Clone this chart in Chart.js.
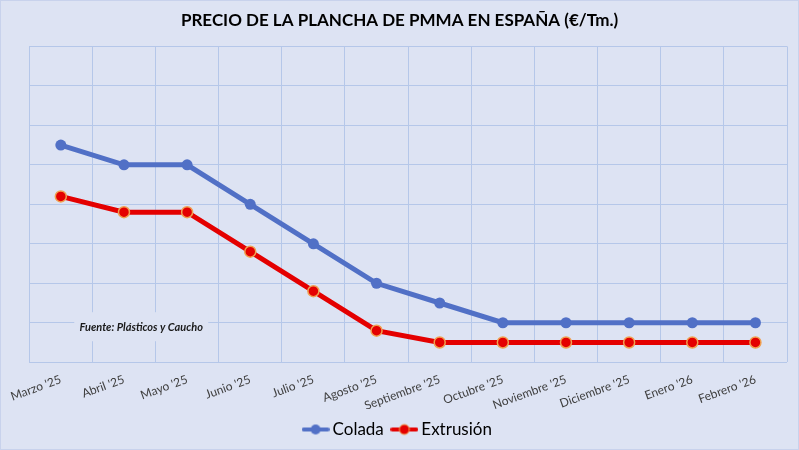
<!DOCTYPE html>
<html>
<head>
<meta charset="utf-8">
<script src="https://cdn.jsdelivr.net/npm/chart.js@4/dist/chart.umd.min.js"></script>
<style>
html,body{margin:0;padding:0;background:#dde3f3;}
#wrap{width:799px;height:450px;position:relative;}
</style>
</head>
<body>
<div id="wrap"><canvas id="c" width="799" height="450"></canvas></div>
<script>
const categories = ["Marzo '25","Abril '25","Mayo '25","Junio '25","Julio '25","Agosto '25","Septiembre '25","Octubre '25","Noviembre '25","Diciembre '25","Enero '26","Febrero '26"];
const colada = [5.5, 5.0, 5.0, 4.0, 3.0, 2.0, 1.5, 1.0, 1.0, 1.0, 1.0, 1.0];
const extrusion = [4.2, 3.8, 3.8, 2.8, 1.8, 0.8, 0.5, 0.5, 0.5, 0.5, 0.5, 0.5];
const titleText = 'PRECIO DE LA PLANCHA DE PMMA EN ESPAÑA (€/Tm.)';
const sourceText = 'Fuente: Plásticos y Caucho';

const BG = '#dde3f3';
const BLUE = '#5170c6';
const RED = '#e40000';
const RING = '#f0a050';
const GRID = '#b5c7e9';
const FONT = 'Lato, "Open Sans", sans-serif';

function legendIcon(color, border) {
  const cv = document.createElement('canvas');
  cv.width = 28; cv.height = 14;
  const g = cv.getContext('2d');
  g.strokeStyle = color; g.lineWidth = 4; g.lineCap = 'round';
  g.beginPath(); g.moveTo(2, 7); g.lineTo(26, 7); g.stroke();
  g.fillStyle = color; g.beginPath(); g.arc(14, 7, 5, 0, Math.PI * 2); g.fill();
  if (border) { g.strokeStyle = border; g.lineWidth = 1; g.stroke(); }
  return cv;
}

const bgPlugin = {
  id: 'bg',
  beforeDraw(chart) {
    const ctx = chart.ctx;
    ctx.save();
    ctx.fillStyle = BG;
    ctx.fillRect(0, 0, chart.width, chart.height);
    ctx.strokeStyle = '#c8d2ec';
    ctx.lineWidth = 1;
    ctx.strokeRect(0.5, 0.5, chart.width - 1, chart.height - 1);
    ctx.restore();
  }
};

const sourcePlugin = {
  id: 'source',
  afterDatasetsDraw(chart) {
    const ctx = chart.ctx;
    const a = chart.chartArea;
    const x0 = a.left + 45, y0 = a.bottom - 50, w = 134, h = 29;
    ctx.save();
    ctx.fillStyle = BG;
    ctx.fillRect(x0, y0, w, h);
    ctx.fillStyle = '#1a1a1a';
    ctx.font = 'italic bold 11px ' + FONT;
    ctx.textAlign = 'center';
    ctx.textBaseline = 'middle';
    ctx.fillText(sourceText, x0 + w / 2, y0 + h / 2 + 1);
    ctx.restore();
  }
};

new Chart(document.getElementById('c'), {
  type: 'line',
  data: {
    labels: categories,
    datasets: [
      {
        label: 'Colada', data: colada,
        borderColor: BLUE, backgroundColor: BLUE,
        borderWidth: 5, pointRadius: 5.5, pointBackgroundColor: BLUE,
        pointBorderColor: BLUE, pointBorderWidth: 0, tension: 0
      },
      {
        label: 'Extrusión', data: extrusion,
        borderColor: RED, backgroundColor: RED,
        borderWidth: 5, pointRadius: 5.5, pointBackgroundColor: RED,
        pointBorderColor: RING, pointBorderWidth: 1.5, tension: 0
      }
    ]
  },
  options: {
    responsive: false,
    animation: false,
    devicePixelRatio: 1,
    layout: { padding: { left: 12, right: 12, top: 4, bottom: 2 } },
    plugins: {
      title: {
        display: true, text: titleText, color: '#000',
        font: { family: FONT, size: 17, weight: 'bold' },
        padding: { top: 6, bottom: 16 }
      },
      legend: {
        position: 'bottom',
        labels: {
          color: '#111', font: { family: FONT, size: 17 },
          usePointStyle: true, padding: 12, boxWidth: 28, boxHeight: 14,
          generateLabels(chart) {
            return chart.data.datasets.map((ds, i) => ({
              text: ds.label,
              pointStyle: legendIcon(ds.borderColor, i === 1 ? RING : null),
              fillStyle: ds.borderColor, strokeStyle: ds.borderColor,
              lineWidth: 0, datasetIndex: i, hidden: false
            }));
          }
        }
      },
      tooltip: { enabled: false }
    },
    scales: {
      x: {
        offset: true,
        grid: { color: GRID, offset: true, drawTicks: false, lineWidth: 1 },
        border: { display: false },
        ticks: {
          color: '#404040', font: { family: FONT, size: 12 },
          minRotation: 20, maxRotation: 20, padding: 10, autoSkip: false
        },
        afterFit(scale) { scale.height -= 14; }
      },
      y: {
        min: 0, max: 8,
        grid: { color: GRID, drawTicks: false, lineWidth: 1 },
        border: { display: false },
        ticks: { display: false, stepSize: 1 },
        afterFit(scale) { scale.width = 16; }
      }
    }
  },
  plugins: [bgPlugin, sourcePlugin]
});
</script>
</body>
</html>
